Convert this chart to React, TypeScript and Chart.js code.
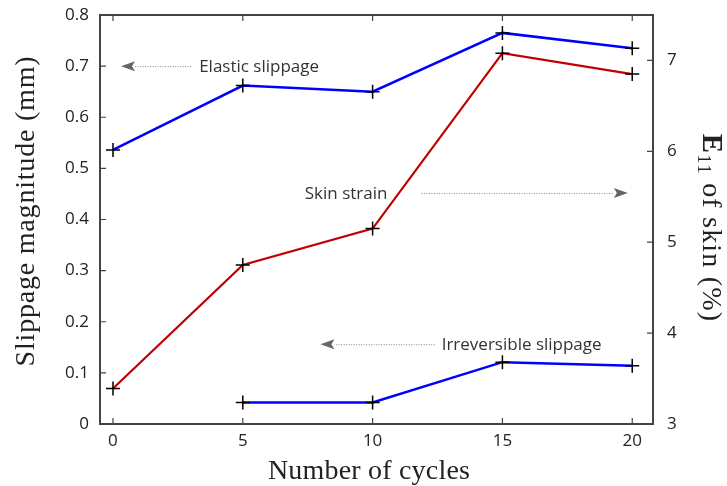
import React, { useEffect, useRef } from "react";
import { Chart, registerables } from "chart.js";

Chart.register(...registerables);

// ---- data ----
const CYCLES = [0, 5, 10, 15, 20];
const ELASTIC_SLIPPAGE = [0.536, 0.662, 0.65, 0.765, 0.735];
const IRREV_CYCLES = [5, 10, 15, 20];
const IRREVERSIBLE_SLIPPAGE = [0.042, 0.042, 0.121, 0.114];
const SKIN_STRAIN = [3.39, 4.75, 5.15, 7.08, 6.85];

const X_TICKS = [0, 5, 10, 15, 20];
const Y_TICKS = [0, 0.1, 0.2, 0.3, 0.4, 0.5, 0.6, 0.7, 0.8];
const Y2_TICKS = [3, 4, 5, 6, 7];

// annotations (data coordinates, left axis for y)
const NOTE_LABELS = ["Elastic slippage", "Skin strain", "Irreversible slippage"];
const NOTE_ALIGN: CanvasTextAlign[] = ["left", "right", "left"];
const NOTE_TEXT_X = [3.32, 10.57, 12.66];
const NOTE_Y = [0.7, 0.452, 0.156];
const ARROW_TAIL_X = [3.01, 11.88, 12.39];
const ARROW_TIP_X = [0.31, 19.83, 7.99];

const TICK_FONT = { family: "'Open Sans', sans-serif", size: 17 };
const SERIF = "'Liberation Serif', serif";

const framePlugin = {
  id: "frame",
  beforeDatasetsDraw(chart: any) {
    const { ctx, chartArea: a, scales } = chart;
    ctx.save();
    ctx.strokeStyle = "#444";
    ctx.lineWidth = 1.2;
    const L = 6;
    ctx.beginPath();
    X_TICKS.forEach((v) => {
      const px = scales.x.getPixelForValue(v);
      ctx.moveTo(px, a.bottom);
      ctx.lineTo(px, a.bottom - L);
      ctx.moveTo(px, a.top);
      ctx.lineTo(px, a.top + L);
    });
    Y_TICKS.forEach((v) => {
      const py = scales.y.getPixelForValue(v);
      ctx.moveTo(a.left, py);
      ctx.lineTo(a.left + L, py);
    });
    Y2_TICKS.forEach((v) => {
      const py = scales.y2.getPixelForValue(v);
      ctx.moveTo(a.right, py);
      ctx.lineTo(a.right - L, py);
    });
    ctx.stroke();
    ctx.lineWidth = 2;
    ctx.strokeRect(a.left, a.top, a.right - a.left, a.bottom - a.top);
    ctx.restore();
  },
  afterDraw(chart: any) {
    const { ctx, scales } = chart;
    ctx.save();
    // annotations
    NOTE_LABELS.forEach((label, i) => {
      const py = scales.y.getPixelForValue(NOTE_Y[i]);
      const tx = scales.x.getPixelForValue(NOTE_TEXT_X[i]);
      ctx.font = "17px 'Open Sans', sans-serif";
      ctx.fillStyle = "#333";
      ctx.textAlign = NOTE_ALIGN[i];
      ctx.textBaseline = "alphabetic";
      ctx.fillText(label, tx, py + 6);
      const tip = scales.x.getPixelForValue(ARROW_TIP_X[i]);
      const tail = scales.x.getPixelForValue(ARROW_TAIL_X[i]);
      const dir = Math.sign(tail - tip);
      const headLen = 14;
      ctx.strokeStyle = "#808080";
      ctx.lineWidth = 1;
      ctx.setLineDash([1, 1.5]);
      ctx.beginPath();
      ctx.moveTo(tail, py + 0.5);
      ctx.lineTo(tip + dir * headLen, py + 0.5);
      ctx.stroke();
      ctx.setLineDash([]);
      ctx.fillStyle = "#666";
      ctx.beginPath();
      ctx.moveTo(tip, py);
      ctx.lineTo(tip + dir * headLen, py - 5);
      ctx.lineTo(tip + dir * (headLen - 3), py);
      ctx.lineTo(tip + dir * headLen, py + 5);
      ctx.closePath();
      ctx.fill();
    });

    // axis titles
    ctx.fillStyle = "#222";
    ctx.textBaseline = "alphabetic";
    ctx.font = `28px ${SERIF}`;
    ctx.textAlign = "center";
    (ctx as any).letterSpacing = "0.2px";
    ctx.fillText("Number of cycles", 369, 479);

    ctx.save();
    ctx.translate(34, 211);
    ctx.rotate(-Math.PI / 2);
    ctx.textAlign = "center";
    (ctx as any).letterSpacing = "0.8px";
    ctx.fillText("Slippage magnitude (mm)", 0, 0);
    ctx.restore();

    ctx.save();
    ctx.translate(703, 228);
    ctx.rotate(Math.PI / 2);
    ctx.textAlign = "left";
    (ctx as any).letterSpacing = "1.2px";
    const fE = `bold 29px ${SERIF}`;
    const fSub = `19px ${SERIF}`;
    const fRest = `28px ${SERIF}`;
    const rest = " of skin (%)";
    ctx.font = fE;
    const wE = ctx.measureText("E").width;
    ctx.font = fSub;
    const wS = ctx.measureText("11").width;
    ctx.font = fRest;
    const wR = ctx.measureText(rest).width;
    let x0 = -(wE + wS + wR) / 2;
    ctx.font = fE;
    ctx.fillText("E", x0, 0);
    x0 += wE;
    ctx.font = fSub;
    ctx.fillText("11", x0, 5);
    x0 += wS;
    ctx.font = fRest;
    ctx.fillText(rest, x0, 0);
    ctx.restore();

    ctx.restore();
  },
};

export default function App() {
  const ref = useRef<HTMLCanvasElement>(null);
  useEffect(() => {
    document.body.style.margin = "0";
    const marker = {
      pointStyle: "cross" as const,
      pointRadius: 7,
      pointHoverRadius: 7,
      pointBorderColor: "#000",
      pointBackgroundColor: "#000",
      pointBorderWidth: 1.5,
      fill: false,
      tension: 0,
    };
    const noPadV = (s: any, w: number) => {
      s.width = w;
      s.paddingTop = 0;
      s.paddingBottom = 0;
    };
    const chart = new Chart(ref.current!, {
      type: "line",
      data: {
        datasets: [
          {
            label: "Elastic slippage",
            data: CYCLES.map((c, i) => ({ x: c, y: ELASTIC_SLIPPAGE[i] })),
            yAxisID: "y",
            borderColor: "#0000ff",
            borderWidth: 2.5,
            ...marker,
          },
          {
            label: "Irreversible slippage",
            data: IRREV_CYCLES.map((c, i) => ({ x: c, y: IRREVERSIBLE_SLIPPAGE[i] })),
            yAxisID: "y",
            borderColor: "#0000ff",
            borderWidth: 2.5,
            ...marker,
          },
          {
            label: "Skin strain",
            data: CYCLES.map((c, i) => ({ x: c, y: SKIN_STRAIN[i] })),
            yAxisID: "y2",
            borderColor: "#c00000",
            borderWidth: 2.2,
            ...marker,
          },
        ],
      },
      options: {
        responsive: false,
        animation: false,
        events: [],
        layout: { padding: { top: 15, left: 0, right: 0, bottom: 0 } },
        plugins: { legend: { display: false }, tooltip: { enabled: false } },
        scales: {
          x: {
            type: "linear",
            position: "bottom",
            min: -0.5,
            max: 20.8,
            grid: { display: false, drawTicks: false },
            border: { display: false },
            ticks: {
              font: TICK_FONT,
              color: "#222",
              padding: 7,
              maxRotation: 0,
              autoSkip: false,
              callback: (v: any) => String(v),
            },
            afterBuildTicks: (s: any) => {
              s.ticks = X_TICKS.map((v) => ({ value: v }));
            },
            afterFit: (s: any) => {
              s.height = 62;
              s.paddingLeft = 0;
              s.paddingRight = 0;
            },
          },
          y: {
            type: "linear",
            position: "left",
            min: 0,
            max: 0.8,
            grid: { display: false, drawTicks: false },
            border: { display: false },
            ticks: {
              font: TICK_FONT,
              color: "#222",
              padding: 11,
              autoSkip: false,
              callback: (v: any) => String(Math.round(Number(v) * 10) / 10),
            },
            afterBuildTicks: (s: any) => {
              s.ticks = Y_TICKS.map((v) => ({ value: v }));
            },
            afterFit: (s: any) => noPadV(s, 100),
          },
          y2: {
            type: "linear",
            position: "right",
            min: 3,
            max: 7.5,
            grid: { display: false, drawTicks: false },
            border: { display: false },
            ticks: {
              font: TICK_FONT,
              color: "#222",
              padding: 14,
              autoSkip: false,
              callback: (v: any) => String(v),
            },
            afterBuildTicks: (s: any) => {
              s.ticks = Y2_TICKS.map((v) => ({ value: v }));
            },
            afterFit: (s: any) => noPadV(s, 74),
          },
        },
      },
      plugins: [framePlugin],
    });
    return () => chart.destroy();
  }, []);
  return (
    <div style={{ width: 727, height: 486 }}>
      <canvas ref={ref} width={727} height={486} style={{ display: "block" }} />
    </div>
  );
}
